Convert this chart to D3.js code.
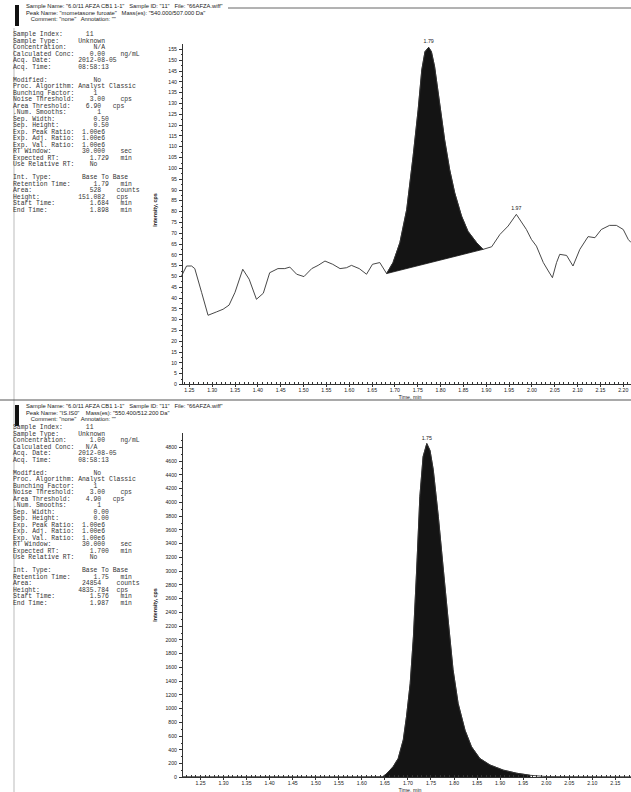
<!DOCTYPE html>
<meta charset="utf-8" />
<title>Chromatogram report</title>
<script src="https://d3js.org/d3.v7.min.js"></script>

<style>
  body {
    margin: 0;
    padding: 0;
    background: #fff;
  }

  .axis path,
  .axis line {
    fill: none;
    stroke: #333;
    shape-rendering: crispEdges;
  }

  .axis text {
    font-family: "Liberation Sans", Arial, sans-serif;
    font-size: 5.2px;
    fill: #222;
  }

  .trace {
    fill: none;
    stroke: #333;
    stroke-width: 0.9;
  }

  .peak {
    fill: #141414;
    stroke: #141414;
    stroke-width: 0.8;
  }

  .info {
    font-family: "Liberation Mono", "DejaVu Sans Mono", monospace;
    font-size: 6.4px;
    fill: #333;
    white-space: pre;
  }

  .head {
    font-family: "Liberation Sans", Arial, sans-serif;
    font-size: 5.8px;
    fill: #222;
    white-space: pre;
  }

  .lbl {
    font-family: "Liberation Sans", Arial, sans-serif;
    font-size: 5.3px;
    fill: #222;
  }
</style>

<body>
  <div id="report"></div>
</body>

<script>
  // ---- data ----
  var topTime = [1.234, 1.245, 1.256, 1.263, 1.278, 1.292, 1.311, 1.325, 1.338, 1.351, 1.368, 1.382, 1.398,
    1.413, 1.427, 1.445, 1.460, 1.471, 1.486, 1.502, 1.519, 1.533, 1.548, 1.565, 1.581, 1.595, 1.606, 1.623,
    1.639, 1.652, 1.668, 1.683, 1.697, 1.712, 1.727, 1.741, 1.752, 1.760, 1.767, 1.775, 1.781, 1.788, 1.799,
    1.810, 1.821, 1.832, 1.847, 1.861, 1.880, 1.894, 1.913, 1.931, 1.949, 1.967, 1.989, 2.000, 2.011, 2.026,
    2.037, 2.046, 2.055, 2.062, 2.077, 2.091, 2.106, 2.124, 2.139, 2.153, 2.171, 2.186, 2.201, 2.212, 2.218];
  var topIntensity = [50, 54.6, 54.6, 53.4, 42.3, 31.8, 33.4, 34.6, 36.5, 42.4, 53.1, 48.5, 39.2,
    42, 51.5, 53.4, 53.4, 54.1, 50.8, 49.7, 53.4, 54.9, 56.9, 55.4, 53.4, 53.8, 54.9, 53.4,
    50.8, 55.4, 56.2, 51.1, 56.2, 65.4, 80.8, 105.4, 126.9, 145.4, 153.8, 155.8, 153.8, 146.9, 130,
    113, 99.2, 88.5, 77.7, 70.7, 65.4, 62.3, 63.5, 69.2, 73.1, 78.5, 71.5, 66.9, 63.8, 56.2,
    52.3, 49.2, 56.2, 60, 59.5, 54.6, 62.3, 68.2, 67.7, 71.5, 73.4, 73.4, 71.5, 66.9, 65.5];

  var bottomTime = [1.213, 1.30, 1.40, 1.50, 1.60, 1.647, 1.655, 1.669, 1.680, 1.691, 1.698, 1.706, 1.713,
    1.720, 1.727, 1.734, 1.742, 1.749, 1.756, 1.767, 1.778, 1.789, 1.799, 1.810, 1.825, 1.839, 1.857,
    1.879, 1.908, 1.937, 1.966, 2.002, 2.074, 2.185];
  var bottomIntensity = [4, 3, 4, 3, 4, 6, 50, 150, 270, 540, 880, 1360, 2040,
    3010, 4080, 4660, 4850, 4750, 4470, 3790, 3010, 2240, 1560, 1070, 680, 440, 270,
    175, 100, 55, 25, 6, 4, 3];

  var topPeaks = [{ t: 1.775, v: 155.8, label: "1.79" }, { t: 1.967, v: 78.5, label: "1.97" }];
  var bottomPeaks = [{ t: 1.742, v: 4850, label: "1.75" }];

  var topIntegration = [1.683, 1.894];     // start / end time of the shaded peak
  var bottomIntegration = [1.647, 1.987];

  var timeTicks = d3.range(1.25, 2.2001, 0.05);
  var topIntensityTicks = d3.range(0, 156, 5);
  var bottomIntensityTicks = d3.range(0, 4801, 200);

  var topHeader = [
    'Sample Name: "6.0/11 AFZA CB1 1-1"   Sample ID: "11"   File: "66AFZA.wiff"',
    'Peak Name: "mometasone furoate"   Mass(es): "540.000/507.000 Da"',
    '   Comment: "none"   Annotation: ""'
  ];
  var bottomHeader = [
    'Sample Name: "6.0/11 AFZA CB1 1-1"   Sample ID: "11"   File: "66AFZA.wiff"',
    'Peak Name: "IS.IS0"    Mass(es): "550.400/512.200 Da"',
    '   Comment: "none"   Annotation: ""'
  ];

  var topInfo = [
    "Sample Index:      11",
    "Sample Type:     Unknown",
    "Concentration:       N/A",
    "Calculated Conc:    0.00    ng/mL",
    "Acq. Date:       2012-08-05",
    "Acq. Time:       08:58:13",
    "",
    "Modified:            No",
    "Proc. Algorithm: Analyst Classic",
    "Bunching Factor:     1",
    "Noise Threshold:    3.00    cps",
    "Area Threshold:    6.90   cps",
    ".Num. Smooths:        1",
    "Sep. Width:          0.50",
    "Sep. Height:         0.50",
    "Exp. Peak Ratio:  1.00e6",
    "Exp. Adj. Ratio:  1.00e6",
    "Exp. Val. Ratio:  1.00e6",
    "RT Window:        30.000    sec",
    "Expected RT:        1.729   min",
    "Use Relative RT:    No",
    "",
    "Int. Type:        Base To Base",
    "Retention Time:      1.79   min",
    "Area:               528    counts",
    "Height:          151.082   cps",
    "Start Time:         1.684   min",
    "End Time:           1.898   min"
  ];
  var bottomInfo = [
    "Sample Index:      11",
    "Sample Type:     Unknown",
    "Concentration:      1.00    ng/mL",
    "Calculated Conc:   N/A",
    "Acq. Date:       2012-08-05",
    "Acq. Time:       08:58:13",
    "",
    "Modified:            No",
    "Proc. Algorithm: Analyst Classic",
    "Bunching Factor:     1",
    "Noise Threshold:    3.00    cps",
    "Area Threshold:    4.90   cps",
    ".Num. Smooths:        1",
    "Sep. Width:          0.00",
    "Sep. Height:         0.00",
    "Exp. Peak Ratio:  1.00e6",
    "Exp. Adj. Ratio:  1.00e6",
    "Exp. Val. Ratio:  1.00e6",
    "RT Window:        30.000    sec",
    "Expected RT:        1.700   min",
    "Use Relative RT:    No",
    "",
    "Int. Type:        Base To Base",
    "Retention Time:      1.75   min",
    "Area:             24854    counts",
    "Height:          4835.784  cps",
    "Start Time:         1.576   min",
    "End Time:           1.987   min"
  ];

  // ---- page ----
  var svg = d3.select("#report")
    .append("svg")
    .attr("width", 631)
    .attr("height", 792);

  svg.append("rect").attr("width", 631).attr("height", 792).attr("fill", "#fff");

  //left border of the printout
  svg.append("line")
    .attr("x1", 14).attr("x2", 14).attr("y1", 28).attr("y2", 792)
    .attr("stroke", "#bbb").attr("stroke-width", 1);

  //rule at the very top and separator between the two pages
  svg.append("line")
    .attr("x1", 228).attr("x2", 631).attr("y1", 8).attr("y2", 8)
    .attr("stroke", "#666").attr("stroke-width", 1);
  svg.append("line")
    .attr("x1", 0).attr("x2", 631).attr("y1", 400).attr("y2", 400)
    .attr("stroke", "#555").attr("stroke-width", 1.2);

  drawPanel({
    top: 0,
    header: topHeader,
    info: topInfo,
    infoY: 34,
    time: topTime,
    values: topIntensity,
    peaks: topPeaks,
    integration: topIntegration,
    baseToBase: true,
    tDomain: [1.235, 2.218],
    vDomain: [0, 157.8],
    plotTop: 43,
    plotBottom: 384,
    vTicks: topIntensityTicks,
    vMinor: d3.range(0, 157, 2.5),
    labelY: 210
  });

  drawPanel({
    top: 400,
    header: bottomHeader,
    info: bottomInfo,
    infoY: 427,
    time: bottomTime,
    values: bottomIntensity,
    peaks: bottomPeaks,
    integration: bottomIntegration,
    baseToBase: false,
    tDomain: [1.211, 2.185],
    vDomain: [0, 5018],
    plotTop: 432,
    plotBottom: 777,
    vTicks: bottomIntensityTicks,
    vMinor: d3.range(0, 5000, 100),
    labelY: 605
  });

  function drawPanel(c) {
    var g = svg.append("g");

    //black bar + header
    g.append("rect")
      .attr("x", 15).attr("y", c.top + 5).attr("width", 4).attr("height", 21)
      .attr("fill", "#111");

    g.selectAll(".head" + c.top)
      .data(c.header)
      .enter()
      .append("text")
      .attr("class", "head")
      .attr("xml:space", "preserve")
      .attr("x", 26)
      .attr("y", function (d, i) { return c.top + 8 + i * 6.6; })
      .text(function (d) { return d; });

    //sample information block
    g.selectAll(".info" + c.top)
      .data(c.info)
      .enter()
      .append("text")
      .attr("class", "info")
      .attr("xml:space", "preserve")
      .attr("x", 13)
      .attr("y", function (d, i) { return c.infoY + 2 + i * 6.5; })
      .text(function (d) { return d; });

    // set the ranges
    var x = d3.scaleLinear().domain(c.tDomain).range([182, 631]);
    var y = d3.scaleLinear().domain(c.vDomain).range([c.plotBottom, c.plotTop]);

    var points = c.time.map(function (t, i) { return { t: t, v: c.values[i] }; });

    var line = d3.line()
      .x(function (d) { return x(d.t); })
      .y(function (d) { return y(d.v); });

    //Shaded peak
    var inside = points.filter(function (d) {
      return d.t >= c.integration[0] - 1e-6 && d.t <= c.integration[1] + 1e-6;
    });
    if (c.baseToBase) {
      g.append("path")
        .attr("class", "peak")
        .attr("d", line(inside) + "Z");
    } else {
      var area = d3.area()
        .x(function (d) { return x(d.t); })
        .y0(y(0))
        .y1(function (d) { return y(d.v); });
      g.append("path")
        .attr("class", "peak")
        .attr("d", area(inside));
    }

    //Line
    g.append("path")
      .datum(points)
      .attr("class", "trace")
      .attr("d", line);

    //peak labels
    g.selectAll(".pk" + c.top)
      .data(c.peaks)
      .enter()
      .append("text")
      .attr("class", "lbl")
      .attr("text-anchor", "middle")
      .attr("x", function (d) { return x(d.t); })
      .attr("y", function (d) { return y(d.v) - 4; })
      .text(function (d) { return d.label; });

    //axes
    g.append("g")
      .attr("class", "axis")
      .attr("transform", "translate(182,0)")
      .call(d3.axisLeft(y).tickValues(c.vMinor).tickSize(1.5).tickFormat(""))
      .call(function (s) { s.select(".domain").remove(); });

    g.append("g")
      .attr("class", "axis")
      .attr("transform", "translate(182,0)")
      .call(d3.axisLeft(y).tickValues(c.vTicks).tickSize(3).tickSizeOuter(0).tickPadding(2)
        .tickFormat(d3.format("d")));

    var tMinor = d3.range(1.22, 2.22, 0.01).filter(function (t) { return t >= c.tDomain[0] && t <= c.tDomain[1]; });
    g.append("g")
      .attr("class", "axis")
      .attr("transform", "translate(0," + c.plotBottom + ")")
      .call(d3.axisBottom(x).tickValues(tMinor).tickSize(-2).tickFormat(""))
      .call(function (s) { s.select(".domain").remove(); s.selectAll("line").attr("stroke", "#999"); });

    var tMajor = timeTicks.filter(function (t) { return t <= c.tDomain[1]; });
    g.append("g")
      .attr("class", "axis")
      .attr("transform", "translate(0," + c.plotBottom + ")")
      .call(d3.axisBottom(x).tickValues(tMajor).tickSize(3).tickSizeOuter(0).tickPadding(1)
        .tickFormat(d3.format(".2f")));

    //axis titles
    g.append("text")
      .attr("class", "lbl")
      .attr("text-anchor", "middle")
      .attr("font-weight", "bold")
      .attr("transform", "translate(157," + c.labelY + ") rotate(-90)")
      .text("Intensity, cps");

    g.append("text")
      .attr("class", "lbl")
      .attr("text-anchor", "middle")
      .attr("x", 410)
      .attr("y", c.plotBottom + 14.5)
      .text("Time, min");
  }
</script>
